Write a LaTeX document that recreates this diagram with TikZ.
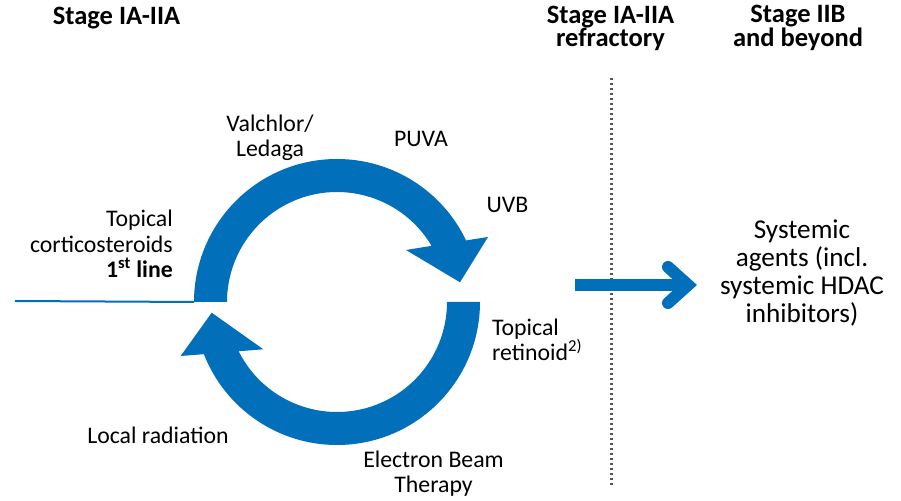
\documentclass[tikz,border=0pt]{standalone}
\usepackage{fontspec}
\setmainfont{Carlito}
\usetikzlibrary{calc}
\definecolor{cblue}{RGB}{1,111,186}
\definecolor{dotgray}{RGB}{85,85,85}
\begin{document}
\begin{tikzpicture}[x=1pt,y=1pt,
  heading/.style={font=\bfseries\fontsize{26.5}{22.5}\selectfont, inner sep=0pt, align=center, text=black},
  body/.style={font=\fontsize{23.8}{25.8}\selectfont, inner sep=0pt, text=black},
  bigbody/.style={font=\fontsize{27.2}{28.3}\selectfont, inner sep=0pt, text=black},
  band/.style={fill=cblue, draw=none}]
\useasboundingbox (0,0) rectangle (901,500);
\fill[white] (0,0) rectangle (901,500);
% centre of the cycle
\coordinate (C) at (337,198);
% upper curved arrow
\coordinate (topTail) at ($(C)+(180:143)$);
\coordinate (topOutBarb) at (488,263);
\coordinate (topTip) at (460,217.7);
\coordinate (topInBarb) at (406,250);
\fill[band] (topTail) arc[start angle=180,end angle=25.5,radius=143]
  -- (topOutBarb) -- (topTip) -- (topInBarb)
  -- ($(C)+(30.7:110)$) arc[start angle=30.7,end angle=180,radius=110] -- cycle;
% lower curved arrow
\coordinate (botTail) at ($(C)+(0:143)$);
\coordinate (botOutBarb) at (180.7,144);
\coordinate (botTip) at (211.7,187.3);
\coordinate (botInBarb) at (263.3,150.7);
\fill[band] (botTail) arc[start angle=0,end angle=-158.6,radius=143]
  -- (botOutBarb) -- (botTip) -- (botInBarb)
  -- ($(C)+(-153.4:110)$) arc[start angle=-153.4,end angle=0,radius=110] -- cycle;
% thin line to the cycle
\coordinate (lineStart) at (15,199);
\draw[cblue, line width=2pt] (lineStart) -- (topTail);
% dotted divider
\coordinate (divTop) at (611.5,422);
\coordinate (divBot) at (611.5,15);
\draw[dotgray, line width=2.5pt, dash pattern=on 2.5pt off 2.5pt] (divTop) -- (divBot);
% right arrow
\coordinate (arrS) at (575,215);
\coordinate (arrE) at (684,215);
\coordinate (arrV) at (688,215);
\coordinate (arrU) at (668,233);
\coordinate (arrD) at (668,197);
\draw[cblue, line width=12pt] (arrS) -- (arrE);
\draw[cblue, line width=12pt, line cap=round, line join=miter, miter limit=10] (arrU) -- (arrV) -- (arrD);
% headings (base anchor = last line's baseline)
\node[heading, anchor=base] (h1) at (116.5,475) {Stage IA-IIA};
\node[heading, anchor=base] (h2) at (610.5,453) {Stage IA-IIA\\refractory};
\node[heading, anchor=base] (h3) at (798,453) {Stage IIB\\and beyond};
% labels
\node[body, align=right, anchor=base east] (tcs) at (173,222) {Topical\ \\corticosteroids\\\textbf{1\textsuperscript{st} line}};
\node[body, align=center, anchor=base] (val) at (270,343) {Valchlor/\\Ledaga};
\node[body, anchor=base] (puva) at (421,353) {PUVA};
\node[body, anchor=base] (uvb) at (507.5,287) {UVB};
\node[body, align=left, anchor=base west] (ret) at (492,139) {Topical\\retinoid\textsuperscript{2)}};
\node[body, anchor=base] (loc) at (158,56) {Local radiation};
\node[body, align=center, anchor=base] (ebt) at (433.5,7) {Electron Beam\\Therapy};
\node[bigbody, align=center, anchor=base] (sys) at (802,177) {Systemic\\agents (incl.\\systemic HDAC\\inhibitors)};
\end{tikzpicture}
\end{document}
